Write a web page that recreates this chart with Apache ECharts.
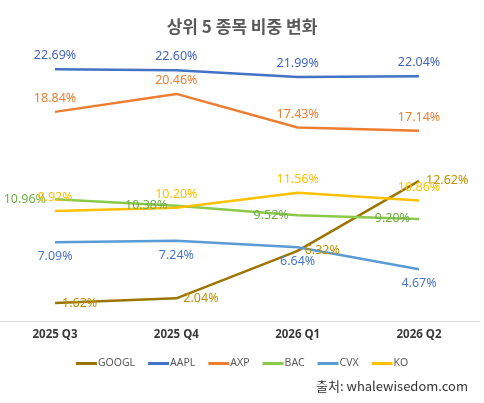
<!DOCTYPE html>
<html style="height: 100%">
<head>
    <meta charset="utf-8">
</head>
<body style="height: 100%; margin: 0; background: #fff">
<div id="chart_container" style="width: 484px; height: 403px"></div>
<script src="https://cdn.jsdelivr.net/npm/echarts@6/dist/echarts.min.js"></script>
<script type="text/javascript">

    var quarters = ['2025 Q3', '2025 Q4', '2026 Q1', '2026 Q2'];
    var googl = [1.62, 2.04, 6.32, 12.62];
    var aapl = [22.69, 22.60, 21.99, 22.04];
    var axp = [18.84, 20.46, 17.43, 17.14];
    var bac = [10.96, 10.38, 9.52, 9.20];
    var cvx = [7.09, 7.24, 6.64, 4.67];
    var ko = [9.92, 10.20, 11.56, 10.86];

    var labelFont = 'Noto Sans, sans-serif';

    function makeSeries(name, data, color, labelColor, pos, dist) {
        return {
            name: name,
            type: 'line',
            data: data,
            symbol: 'circle',
            symbolSize: 0,
            showSymbol: true,
            lineStyle: {color: color, width: 2.5},
            itemStyle: {color: color},
            label: {
                show: true,
                position: pos,
                distance: dist,
                color: labelColor,
                fontSize: 12.5,
                fontFamily: labelFont,
                formatter: function (p) {
                    return p.value.toFixed(2) + '%';
                }
            }
        };
    }

    var option = {
        animation: false,
        backgroundColor: '#ffffff',
        title: {
            text: '상위 5 종목 비중 변화',
            left: 'center',
            top: 13,
            textStyle: {
                fontSize: 17,
                fontWeight: 'bold',
                color: '#595959',
                fontFamily: 'Noto Sans CJK KR, sans-serif'
            }
        },
        legend: {
            data: ['GOOGL', 'AAPL', 'AXP', 'BAC', 'CVX', 'KO'],
            left: 'center',
            top: 353,
            itemWidth: 21,
            itemHeight: 3,
            itemGap: 13,
            icon: 'rect',
            textStyle: {
                fontSize: 10.5,
                color: '#595959',
                fontFamily: labelFont,
                padding: [0, 0, 0, -4]
            }
        },
        graphic: [{
            type: 'line',
            shape: {x1: 0, y1: 321.5, x2: 480, y2: 321.5},
            style: {stroke: '#d9d9d9', lineWidth: 1},
            z: -1
        }, {
            type: 'text',
            right: 16,
            top: 380,
            style: {
                text: '출처: whalewisedom.com',
                fontSize: 13,
                fill: '#333333',
                fontFamily: 'Noto Sans CJK KR, sans-serif'
            }
        }],
        grid: {
            left: 55,
            right: 65,
            top: 43.5,
            bottom: 82
        },
        xAxis: {
            type: 'category',
            data: quarters,
            boundaryGap: false,
            axisLine: {show: false},
            axisTick: {show: false},
            axisLabel: {
                fontSize: 11.5,
                fontWeight: 'bold',
                color: '#3a3a3a',
                margin: 8,
                fontFamily: labelFont
            }
        },
        yAxis: {
            type: 'value',
            min: 0,
            max: 25,
            show: false,
            splitLine: {show: false}
        },
        series: [
            makeSeries('GOOGL', googl, '#9c7500', '#bf9000', 'right', 7),
            makeSeries('AAPL', aapl, '#4472c4', '#4466b8', 'top', 7),
            makeSeries('AXP', axp, '#ed7d31', '#ed7d31', 'top', 7),
            makeSeries('BAC', bac, '#8bc94a', '#70ad47', 'left', 9),
            makeSeries('CVX', cvx, '#5b9bd5', '#4a78c8', 'bottom', 8),
            makeSeries('KO', ko, '#ffc000', '#ffc000', 'top', 7)
        ]
    };

    var chart = echarts.init(document.getElementById('chart_container'));
    chart.setOption(option);
</script>
</body>
</html>
